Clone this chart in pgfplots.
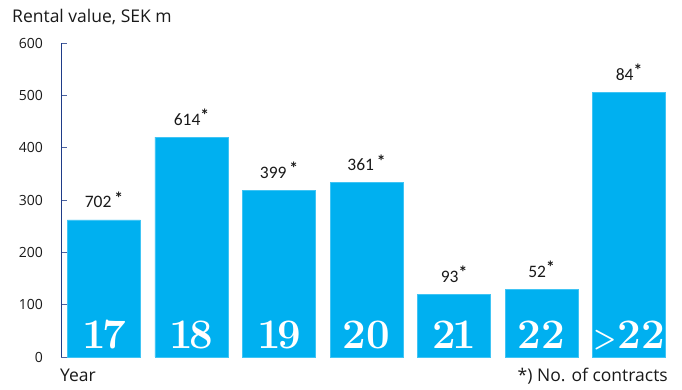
\documentclass[border=0pt]{standalone}
\usepackage{pgfplots}
\pgfplotsset{compat=1.18}
\usepackage{fontspec}
\newfontfamily\osans{Open Sans}
\newfontfamily\calib{Carlito}
\definecolor{barblue}{HTML}{00B0F0}
\definecolor{axnavy}{HTML}{1F3C88}
\newcommand\st{\raisebox{3.5pt}{\bfseries *}}
\newcommand\sst{\,\raisebox{3.5pt}{\bfseries *}}
\newcommand\gt{\raisebox{1pt}{\scalebox{0.62}[0.7]{>}}\kern1pt}
\begin{document}
\begin{tikzpicture}
\path[use as bounding box] (0,0) rectangle (682pt,390pt);
\begin{axis}[
  at={(61pt,33pt)}, anchor=south west,
  scale only axis, width=611.75pt, height=314pt,
  xmin=-0.4914, xmax=6.5, ymin=0, ymax=600,
  axis x line=none, axis y line=left,
  y axis line style={-, draw=axnavy, line width=0.8pt},
  ytick={0,100,...,600}, xtick=\empty,
  tick align=inside, major tick length=6pt,
  ytick style={draw=axnavy!80, line width=0.6pt},
  /pgf/number format/assume math mode=true,
  yticklabel style={font=\osans\fontsize{14}{14}\selectfont, text=black!90, anchor=east, inner sep=0pt, xshift=-18pt},
  clip=false,
]
\addplot[ybar, bar width=73pt, fill=barblue, draw=barblue!75!white, line width=0.5pt,
  nodes near coords, point meta=explicit symbolic,
  every node near coord/.style={font=\calib\fontsize{17.5}{17.5}\selectfont, text=black!90, anchor=base, inner sep=0pt, yshift=12pt}]
  coordinates {(0,262)[702\sst] (1,420)[614\st] (2,319)[399\sst] (3,333)[361\sst] (4,120)[93\st] (5,129)[52\st] (6,506)[84\st]};
\addplot[draw=none, nodes near coords, point meta=explicit symbolic,
  every node near coord/.style={font=\bfseries\fontsize{42}{42}\selectfont, text=white, anchor=base, inner sep=0pt, yshift=8pt}]
  coordinates {(0,0)[1\kern-4pt 7] (1,0)[1\kern-4pt 8] (2,0)[1\kern-4pt 9] (3,0)[20] (4,0)[2\kern-4pt 1] (5,0)[22] (6,0)[\gt 22]};
\end{axis}
\node[anchor=base west, inner sep=0pt, font=\osans\fontsize{17.5}{17.5}\selectfont, text=black!90] at (12pt,367pt) {Rental value, SEK m};
\node[anchor=base west, inner sep=0pt, font=\osans\fontsize{17.5}{17.5}\selectfont, text=black!90] at (60pt,8pt) {Year};
\node[anchor=base east, inner sep=0pt, font=\osans\fontsize{17.5}{17.5}\selectfont, text=black!90] at (668pt,8pt) {*) No. of contracts};
\end{tikzpicture}
\end{document}
